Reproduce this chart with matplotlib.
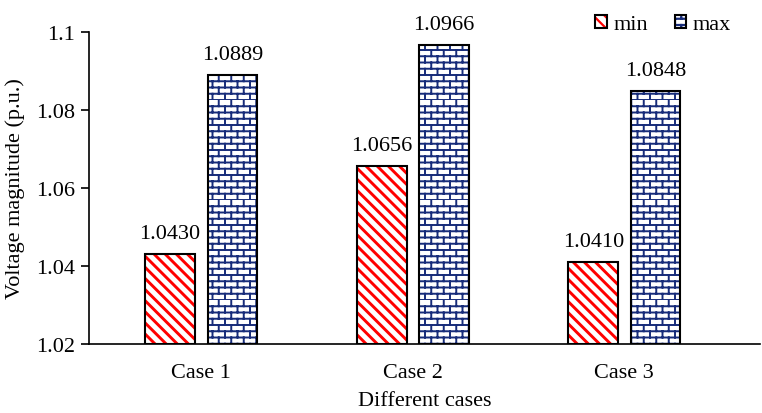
import warnings
import numpy as np
import matplotlib
import matplotlib.pyplot as plt
import matplotlib.hatch as mhatch
from matplotlib.path import Path
matplotlib.use('Agg')
warnings.filterwarnings('ignore')

# ------------ Data ------------ #
cases = ['Case 1', 'Case 2', 'Case 3']
v_min = [1.0430, 1.0656, 1.0410]
v_max = [1.0889, 1.0966, 1.0848]
y_ticks = [1.02, 1.04, 1.06, 1.08, 1.1]
y_ticklabels = ['1.02', '1.04', '1.06', '1.08', '1.1']


# ------------ Brick hatch ('b') ------------ #
class BrickHatch(mhatch.HatchPatternBase):
    def __init__(self, hatch, density):
        n = hatch.count('b')
        self.rows = 16 * n
        self.cols = 8
        self.num_vertices = 0 if n == 0 else 2 * self.rows + 2 * self.rows * self.cols

    def set_vertices_and_codes(self, vertices, codes):
        i = 0
        for r in range(self.rows):
            y = r / self.rows
            vertices[i] = (0, y)
            vertices[i + 1] = (1, y)
            codes[i] = Path.MOVETO
            codes[i + 1] = Path.LINETO
            i += 2
        for r in range(self.rows):
            y0, y1 = r / self.rows, (r + 1) / self.rows
            for k in range(self.cols):
                x = (k + 0.5 * (r % 2)) / self.cols
                vertices[i] = (x, y0)
                vertices[i + 1] = (x, y1)
                codes[i] = Path.MOVETO
                codes[i + 1] = Path.LINETO
                i += 2


mhatch._hatch_types.append(BrickHatch)

plt.rcParams['font.family'] = ['Liberation Serif', 'DejaVu Serif']
plt.rcParams['font.size'] = 16
plt.rcParams['hatch.linewidth'] = 1.6


def hatched_bars(ax, x, h, hatch, hcolor, hlw, width):
    with plt.rc_context({'hatch.color': hcolor, 'hatch.linewidth': hlw}):
        bars = ax.bar(x, np.array(h) - 1.02, width, bottom=1.02, color='white',
                      hatch=hatch, linewidth=0, zorder=2)
    for p in bars:
        if hasattr(p, 'set_hatch_linewidth'):
            p.set_hatch_linewidth(hlw)
        p._hatch_linewidth = hlw
    outline = ax.bar(x, np.array(h) - 1.02, width, bottom=1.02, fill=False,
                     edgecolor='black', linewidth=1.5, zorder=3)
    return bars, outline


fig = plt.figure(figsize=(7.62, 4.14), dpi=100)
ax = fig.add_axes([0.117, 0.167, 0.880, 0.753])

x = np.arange(len(cases))
w = 0.235
off = 0.147
red_bars, red_out = hatched_bars(ax, x - off, v_min, '\\\\\\', '#FF0000', 2.1, w)
blue_bars, blue_out = hatched_bars(ax, x + off, v_max, 'b', '#172C7A', 1.4, w)

for xi, v in zip(x - off, v_min):
    ax.annotate(f'{v:.4f}', (xi, v), xytext=(0, 8), textcoords='offset points',
                ha='center', va='bottom', fontsize=16)
for xi, v in zip(x + off, v_max):
    ax.annotate(f'{v:.4f}', (xi, v), xytext=(0, 8), textcoords='offset points',
                ha='center', va='bottom', fontsize=16)

ax.set_ylim(1.02, 1.1)
ax.set_xlim(-0.53, 2.64)
ax.set_yticks(y_ticks)
ax.set_yticklabels(y_ticklabels)
ax.set_xticks(x)
ax.set_xticklabels(cases)
ax.tick_params(axis='x', length=0, pad=14)
ax.tick_params(axis='y', direction='out', length=6, width=1.2, pad=4)
for s in ['top', 'right']:
    ax.spines[s].set_visible(False)
for s in ['left', 'bottom']:
    ax.spines[s].set_linewidth(1.2)

ax.set_ylabel('Voltage magnitude (p.u.)', fontsize=16, labelpad=8)
ax.set_xlabel('Different cases', fontsize=16, labelpad=6)

fig.legend([(red_bars[0], red_out[0]), (blue_bars[0], blue_out[0])], ['min', 'max'],
           loc='upper right', bbox_to_anchor=(0.985, 1.01), ncol=2, frameon=False,
           fontsize=16, handlelength=0.5, handleheight=0.5, handletextpad=0.3,
           columnspacing=1.2)

fig.savefig('out.png', dpi=100)
